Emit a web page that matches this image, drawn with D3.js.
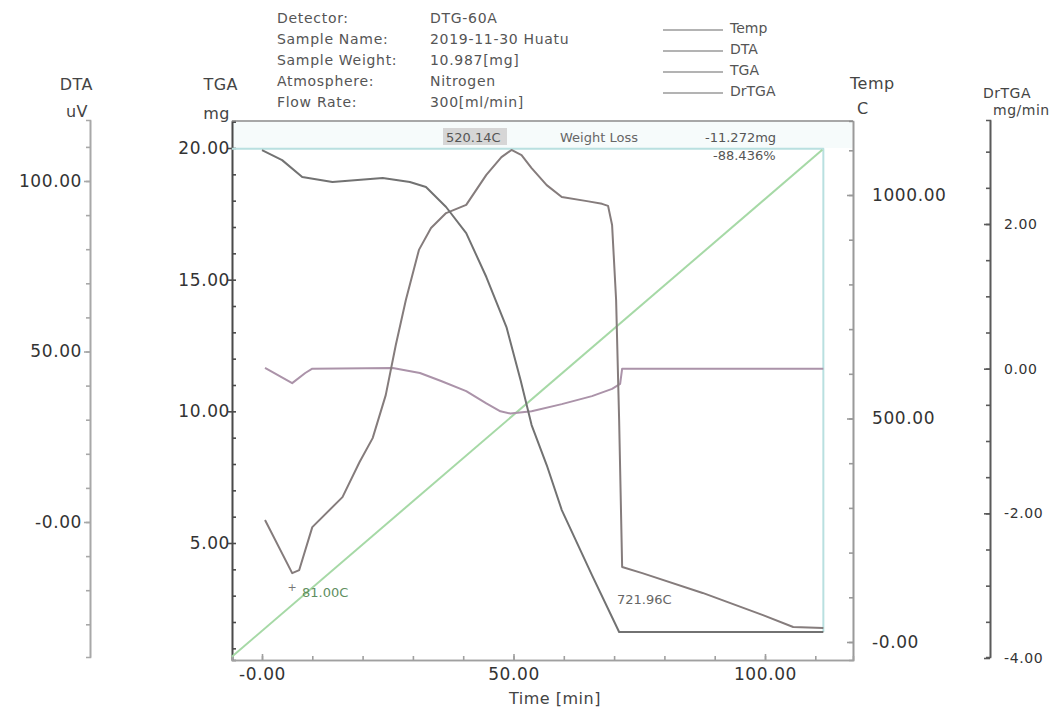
<!DOCTYPE html>
<html>
<head>
<meta charset="utf-8">
<script src="https://cdn.jsdelivr.net/npm/d3@7"></script>
<style>
  body { margin: 0; background: #fff; }
  svg text { font-family: "DejaVu Sans", sans-serif; }
</style>
</head>
<body>
<div id="chart"></div>
<script>
// ---- data ----
var timeTicks = [0, 50, 100];
var dtaTicks = [100, 50, 0];
var tgaTicks = [20, 15, 10, 5];
var tempTicks = [1000, 500, 0];
var dtgaTicks = [2, 0, -2, -4];

var tempTime = [-6, 111.4];
var tempVals = [-33, 1101];

var dtaTime = [0.6, 6, 7.4, 10, 16, 19.4, 22, 24.6, 26.6, 28.6, 31.2, 33.6, 36.6, 40.6, 44.6, 47.6, 49.6, 51.6, 53.6, 56.6, 59.6, 64.6, 67.6, 68.8, 69.6, 70.4, 71, 71.6, 75.6, 87.6, 99.6, 105.6, 111.6];
var dtaVals = [0.6, -15, -14.1, -1.5, 7.3, 17.6, 24.6, 37.2, 51.9, 65.1, 79.8, 86.2, 90.6, 93, 101.8, 107, 109.1, 107.6, 103.8, 98.8, 95.3, 94.1, 93.3, 92.7, 87.1, 65.1, 29.9, -13.2, -15, -20.8, -27.3, -30.8, -31.1];

var tgaTime = [0, 4, 8, 14, 24, 29.4, 32.6, 36.6, 40.6, 44.6, 48.6, 51.4, 53.6, 56.6, 59.6, 65.6, 71, 111.6];
var tgaVals = [19.92, 19.54, 18.9, 18.71, 18.86, 18.71, 18.52, 17.76, 16.77, 15.1, 13.2, 11.19, 9.48, 7.96, 6.25, 3.78, 1.62, 1.62];

var dtgaTime = [0.6, 6, 8.6, 10, 26, 31.4, 35.6, 40.6, 44.6, 47.4, 49.4, 53.6, 59.6, 65.6, 69.6, 71.2, 71.6, 111.6];
var dtgaVals = [0.01, -0.2, -0.06, 0, 0.01, -0.06, -0.17, -0.31, -0.48, -0.59, -0.62, -0.59, -0.49, -0.38, -0.28, -0.21, 0, 0];

// weight loss bracket (start mass line, then drop at the end time)
var lossTime = [-6, 111.6, 111.6];
var lossVals = [19.97, 19.97, 1.62];

var headerLabels = ["Detector:", "Sample Name:", "Sample Weight:", "Atmosphere:", "Flow Rate:"];
var headerValues = ["DTG-60A", "2019-11-30 Huatu", "10.987[mg]", "Nitrogen", "300[ml/min]"];
var legendNames = ["Temp", "DTA", "TGA", "DrTGA"];

var W = 1055, H = 713;
var fmtPlain = function(d) { return d3.format(".2f")(d).replace("\u2212", "-"); };
var fmt = function(d) { return d === 0 ? "-0.00" : fmtPlain(d); };

var svg = d3.select("#chart").append("svg")
  .attr("width", W)
  .attr("height", H);

// scales built from two readable ticks, then stretched to the axis length
function stretch(s, a, b) {
  return s.domain([s.invert(a), s.invert(b)]).range([a, b]);
}
var x = stretch(d3.scaleLinear().domain([0, 100]).range([262, 765]), 232, 853);
var yDta = stretch(d3.scaleLinear().domain([0, 100]).range([522, 181]), 657, 120);
var yTga = stretch(d3.scaleLinear().domain([5, 20]).range([543, 148]), 660, 121);
var yTemp = stretch(d3.scaleLinear().domain([0, 1000]).range([642, 195]), 660, 121);
var yDtga = stretch(d3.scaleLinear().domain([-4, 2]).range([658, 224]), 657, 120);

// light band at the top of the plot
svg.append("rect")
  .attr("x", 233).attr("y", 122)
  .attr("width", 619).attr("height", 26)
  .style("fill", "#f6fbfb");

// ---- axes ----
function styleAxis(g, color, size) {
  g.selectAll("path, line").style("stroke", color).style("stroke-width", 1.6);
  g.selectAll("text")
    .style("font-family", "DejaVu Sans, sans-serif")
    .style("font-size", size + "px")
    .style("letter-spacing", "0.6px")
    .style("fill", "#333");
}
function minorTicks(scale, step) {
  var d = scale.domain(), lo = Math.min(d[0], d[1]), hi = Math.max(d[0], d[1]);
  var out = [];
  for (var v = Math.ceil(lo / step) * step; v <= hi; v += step) out.push(+v.toFixed(4));
  return out;
}

// DTA
var gDta = svg.append("g").attr("transform", "translate(90,0)");
gDta.append("g").call(d3.axisLeft(yDta).tickValues(minorTicks(yDta, 10)).tickSize(4).tickFormat(""));
gDta.append("g").call(d3.axisLeft(yDta).tickValues(dtaTicks).tickSizeInner(6).tickSizeOuter(0).tickPadding(2).tickFormat(fmt));
styleAxis(gDta, "#a8a8a8", 17);

// TGA
var gTga = svg.append("g").attr("transform", "translate(232,0)");
gTga.append("g").call(d3.axisLeft(yTga).tickValues(minorTicks(yTga, 1)).tickSize(-4).tickFormat(""));
gTga.append("g").call(d3.axisLeft(yTga).tickValues(tgaTicks).tickSizeInner(4).tickSizeOuter(0).tickPadding(-2).tickFormat(fmtPlain));
styleAxis(gTga, "#4a4a4a", 17);

// Temp
var gTemp = svg.append("g").attr("transform", "translate(853,0)");
gTemp.append("g").call(d3.axisRight(yTemp).tickValues(minorTicks(yTemp, 100)).tickSize(-4).tickFormat(""));
gTemp.append("g").call(d3.axisRight(yTemp).tickValues(tempTicks).tickSizeInner(-6).tickSizeOuter(0).tickPadding(19).tickFormat(fmt));
styleAxis(gTemp, "#9a9a9a", 17);

// DrTGA
var gDtga = svg.append("g").attr("transform", "translate(990,0)");
gDtga.append("g").call(d3.axisRight(yDtga).tickValues(minorTicks(yDtga, 0.5)).tickSize(-4).tickFormat(""));
gDtga.append("g").call(d3.axisRight(yDtga).tickValues(dtgaTicks).tickSizeInner(-6).tickSizeOuter(0).tickPadding(14).tickFormat(fmtPlain));
styleAxis(gDtga, "#5a5a5a", 14);

// Time
var gX = svg.append("g").attr("transform", "translate(0,660)");
gX.append("g").call(d3.axisBottom(x).tickValues(minorTicks(x, 10)).tickSize(-4).tickFormat(""));
gX.append("g").call(d3.axisBottom(x).tickValues(timeTicks).tickSizeInner(-6).tickSizeOuter(0).tickPadding(8).tickFormat(fmt));
styleAxis(gX, "#a0a0a0", 17);

// top frame line
svg.append("line")
  .attr("x1", 232).attr("x2", 853)
  .attr("y1", yTga.range()[1]).attr("y2", yTga.range()[1])
  .style("stroke", "#8a8a8a").style("stroke-width", 1.6);

// axis titles
function title(tx, ty, txt, anchor, size) {
  svg.append("text")
    .attr("x", tx).attr("y", ty)
    .style("font-size", size + "px")
    .style("letter-spacing", "0.5px")
    .style("text-anchor", anchor)
    .style("fill", "#444")
    .text(txt);
}
title(93, 90, "DTA", "end", 16);
title(88, 117, "uV", "end", 16);
title(238, 90, "TGA", "end", 16);
title(230, 119, "mg", "end", 16);
title(850, 89, "Temp", "start", 16);
title(857, 114, "C", "start", 16);
title(983, 98, "DrTGA", "start", 14);
title(993, 115, "mg/min", "start", 14);
title(555, 704, "Time  [min]", "middle", 16);

// ---- series ----
function drawLine(times, vals, yScale, color, width) {
  var pts = times.map(function(t, i) { return [x(t), yScale(vals[i])]; });
  svg.append("path")
    .attr("d", d3.line()(pts))
    .style("fill", "none")
    .style("stroke", color)
    .style("stroke-width", width)
    .style("stroke-linejoin", "round");
}
drawLine(lossTime, lossVals, yTga, "#b9e0e0", 2);
drawLine(tempTime, tempVals, yTemp, "#a6d9a6", 2);
drawLine(dtgaTime, dtgaVals, yDtga, "#ab93a9", 2);
drawLine(dtaTime, dtaVals, yDta, "#857c7c", 2);
drawLine(tgaTime, tgaVals, yTga, "#727272", 2);

// ---- annotations ----
svg.append("rect")
  .attr("x", 443).attr("y", 128).attr("width", 64).attr("height", 17)
  .style("fill", "#d6d6d6");
function note(tx, ty, txt, color, size) {
  svg.append("text")
    .attr("x", tx).attr("y", ty)
    .style("font-size", size + "px")
    .style("fill", color)
    .text(txt);
}
note(446, 142, "520.14C", "#555", 13);
note(560, 142, "Weight Loss", "#666", 13);
note(705, 142, "-11.272mg", "#555", 13);
note(713, 160, "-88.436%", "#555", 13);
note(302, 597, "81.00C", "#5f8f5f", 13);
note(617, 604, "721.96C", "#666", 13);
svg.append("text")
  .attr("x", x(6)).attr("y", yDta(-15) + 18)
  .style("font-size", "11px").style("fill", "#777")
  .style("text-anchor", "middle")
  .text("+");

// ---- header ----
headerLabels.forEach(function(l, i) {
  svg.append("text")
    .attr("x", 277).attr("y", 23 + i * 21)
    .style("font-size", "14px").style("letter-spacing", "0.7px")
    .style("fill", "#555")
    .text(l);
  svg.append("text")
    .attr("x", 430).attr("y", 23 + i * 21)
    .style("font-size", "14px").style("letter-spacing", "0.7px")
    .style("fill", "#555")
    .text(headerValues[i]);
});

// ---- legend ----
legendNames.forEach(function(n, i) {
  var ly = 30 + i * 21;
  svg.append("line")
    .attr("x1", 663).attr("x2", 723)
    .attr("y1", ly).attr("y2", ly)
    .style("stroke", "#9a9a9a").style("stroke-width", 1.6);
  svg.append("text")
    .attr("x", 730).attr("y", ly + 3)
    .style("font-size", "14px")
    .style("fill", "#555")
    .text(n);
});
</script>
</body>
</html>
